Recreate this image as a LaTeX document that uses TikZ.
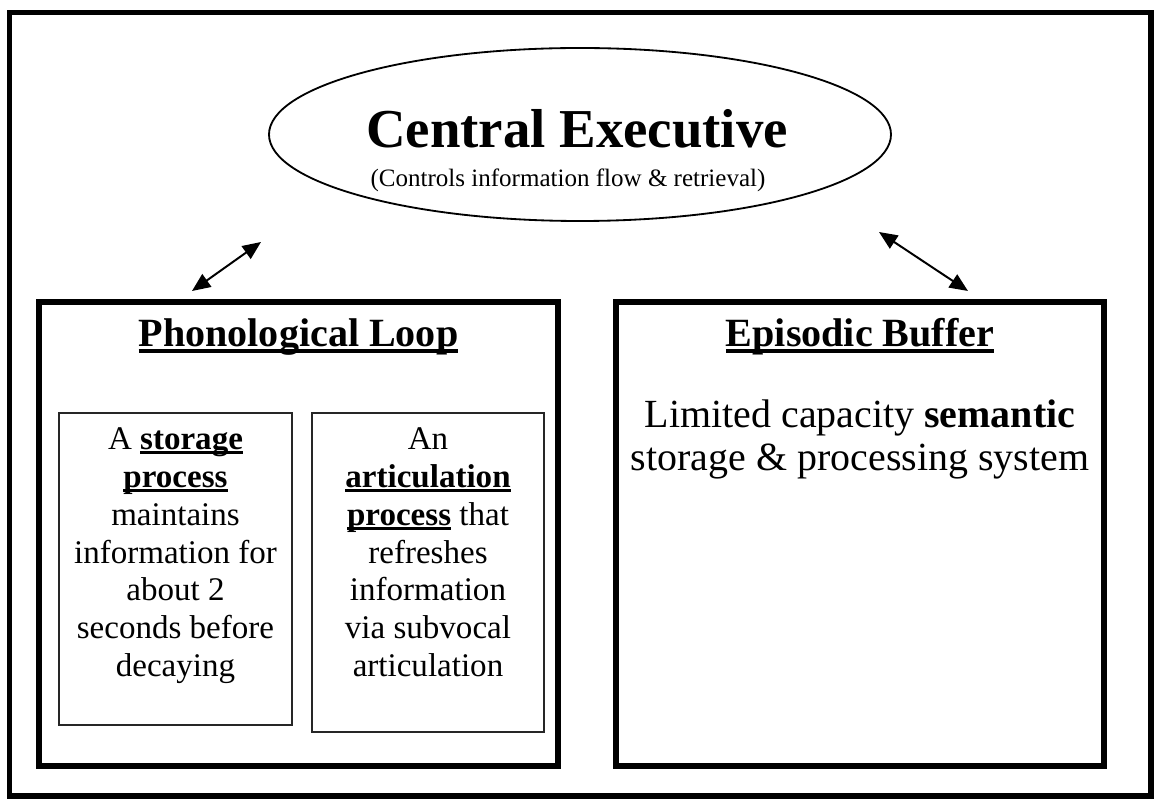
\documentclass[tikz,border=0pt]{standalone}
\usepackage{fontspec}
\setmainfont{Liberation Serif}
\usetikzlibrary{shapes.geometric, arrows.meta, positioning}
% bold word with a heavy underline
\newcommand{\uword}[1]{\setbox0\hbox{\textbf{#1}}\rlap{\rule[-0.14em]{\wd0}{0.085em}}\box0\relax}
\tikzset{
  frame/.style={draw=black, line width=3.6pt},
  compbox/.style={rectangle, draw=black, line width=4pt, minimum width=#1, minimum height=464*0.025cm, inner sep=0pt},
  subbox/.style={rectangle, draw=black!85, line width=0.9pt, inner sep=0pt},
  link/.style={{Triangle[length=13pt,width=11pt]}-{Triangle[length=13pt,width=11pt]}, line width=1.4pt}
}

\begin{document}
\begin{tikzpicture}[
  x=0.025cm, y=-0.025cm,
  hdr/.style={anchor=base, font=\fontsize{28.5}{32}\selectfont\bfseries},
  body/.style={anchor=north, align=center, inner sep=0pt, font=\fontsize{23.5}{27}\selectfont}
]
\useasboundingbox (0,0) rectangle (1156,799);
\draw[frame] (9.5,12.5) rectangle (1151,796);

%--- central executive ---
\node[ellipse, draw, line width=1.3pt, minimum width=622*0.025cm, minimum height=173*0.025cm, inner sep=0pt] (ce) at (580,134.5) {};
\node[anchor=base, font=\fontsize{39}{44}\selectfont\bfseries] (cetitle) at (577,148) {Central Executive};
\node[anchor=base, font=\fontsize{17.8}{20}\selectfont] (cenote) at (568,187) {(Controls information flow \& retrieval)};

%--- phonological loop ---
\node[compbox=519*0.025cm] (pl) at (298.5,534) {};
\node[hdr] (pltitle) at (298.5,347) {\uword{Phonological Loop}};
\node[subbox, minimum width=233*0.025cm, minimum height=312*0.025cm] (store) at (175.5,569) {};
\node[subbox, minimum width=232*0.025cm, minimum height=319*0.025cm] (artic) at (428,572.5) {};
\node[body] (storetxt) at (175.5,427) {A \uword{storage}\\ \uword{process}\\ maintains\\ information for\\ about 2\\ seconds before\\ decaying};
\node[body] (artictxt) at (428,427) {An\\ \uword{articulation}\\ \uword{process} that\\ refreshes\\ information\\ via subvocal\\ articulation};

%--- episodic buffer ---
\node[compbox=488*0.025cm] (eb) at (860,534) {};
\node[hdr] (ebtitle) at (860,347) {\uword{Episodic Buffer}};
\node[anchor=north, align=center, inner sep=0pt, font=\fontsize{28.4}{30}\selectfont] (ebtxt) at (860,400) {Limited capacity \textbf{semantic}\\ storage \& processing system};

%--- two-way links ---
\coordinate (plTip) at (192,291);
\coordinate (ceTipL) at (261,242);
\coordinate (ceTipR) at (879,232);
\coordinate (ebTip) at (968,291);
\draw[link] (plTip) -- (ceTipL);
\draw[link] (ceTipR) -- (ebTip);
\end{tikzpicture}
\end{document}
